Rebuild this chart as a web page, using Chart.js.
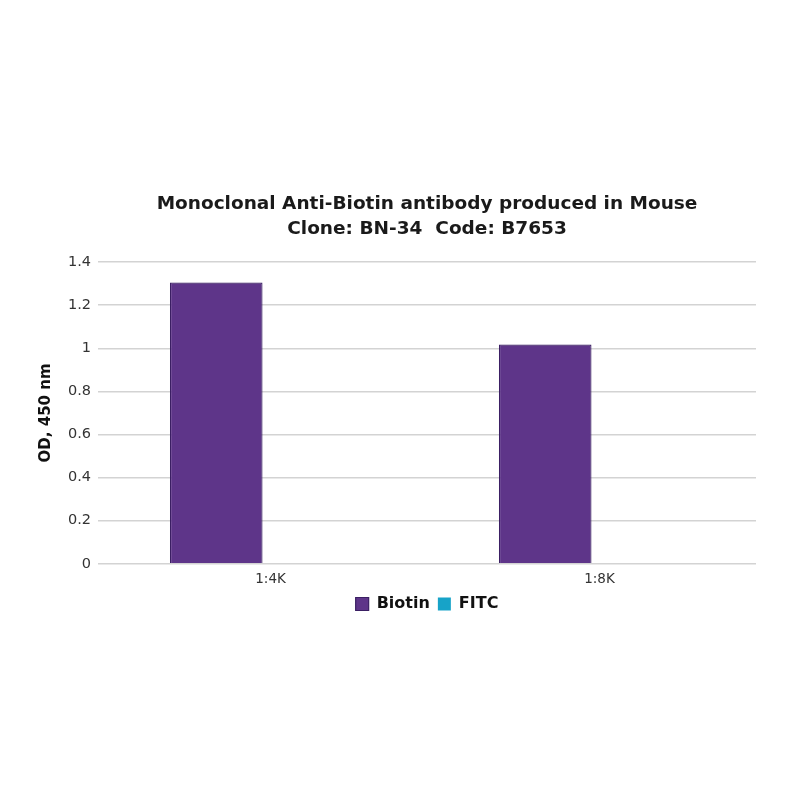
<!DOCTYPE html>
<html><head><meta charset="utf-8">
<script src="https://cdn.jsdelivr.net/npm/chart.js@4.4.0/dist/chart.umd.min.js"></script>
<style>html,body{margin:0;padding:0;background:#fff}#wrap{width:800px;height:800px}</style>
</head><body><div id="wrap"><canvas id="c" width="800" height="800"></canvas></div>
<script>
const categories = ["1:4K", "1:8K"];
const biotin = [1.305, 1.017];
const fitc = [0, 0];
const titleLines = ["Monoclonal Anti-Biotin antibody produced in Mouse", "Clone: BN-34  Code: B7653"];
const yTitle = "OD, 450 nm";

new Chart(document.getElementById('c'), {
  type: 'bar',
  data: {
    labels: categories,
    datasets: [
      {label: 'Biotin', data: biotin, backgroundColor: '#5e3589', borderColor: '#3b1f63', borderWidth: 1.2},
      {label: 'FITC', data: fitc, backgroundColor: '#17a3c8', borderColor: '#0f86a6', borderWidth: 0}
    ]
  },
  options: {
    responsive: false,
    animation: false,
    devicePixelRatio: 1,
    layout: {padding: {top: 191, bottom: 178, left: 33, right: 44}},
    datasets: {bar: {categoryPercentage: 0.563, barPercentage: 1}},
    plugins: {
      title: {display: true, text: titleLines, fullSize: false, color: '#1a1a1a',
        font: {family: 'DejaVu Sans', size: 18.5, weight: 'bold', lineHeight: 1.38}, padding: {top: 0, bottom: 20}},
      legend: {position: 'bottom', fullSize: false, labels: {color: '#111', font: {family: 'DejaVu Sans', size: 16, weight: 'bold'},
        boxWidth: 13, boxHeight: 13, padding: 8}},
      tooltip: {enabled: false}
    },
    scales: {
      x: {grid: {display: false}, border: {display: false},
        ticks: {color: '#333', font: {family: 'DejaVu Sans', size: 13.5}, labelOffset: 8, padding: 0}},
      y: {min: 0, max: 1.4, border: {display: false},
        grid: {color: '#d3d3d3', lineWidth: 1.5, drawTicks: false},
        ticks: {stepSize: 0.2, color: '#333', padding: 7, font: {family: 'DejaVu Sans', size: 14.5},
          callback: v => String(Math.round(v * 10) / 10)},
        title: {display: true, text: yTitle, color: '#111', font: {family: 'DejaVu Sans', size: 15, weight: 'bold'}, padding: {bottom: 6}}
      }
    }
  }
});
</script></body></html>
